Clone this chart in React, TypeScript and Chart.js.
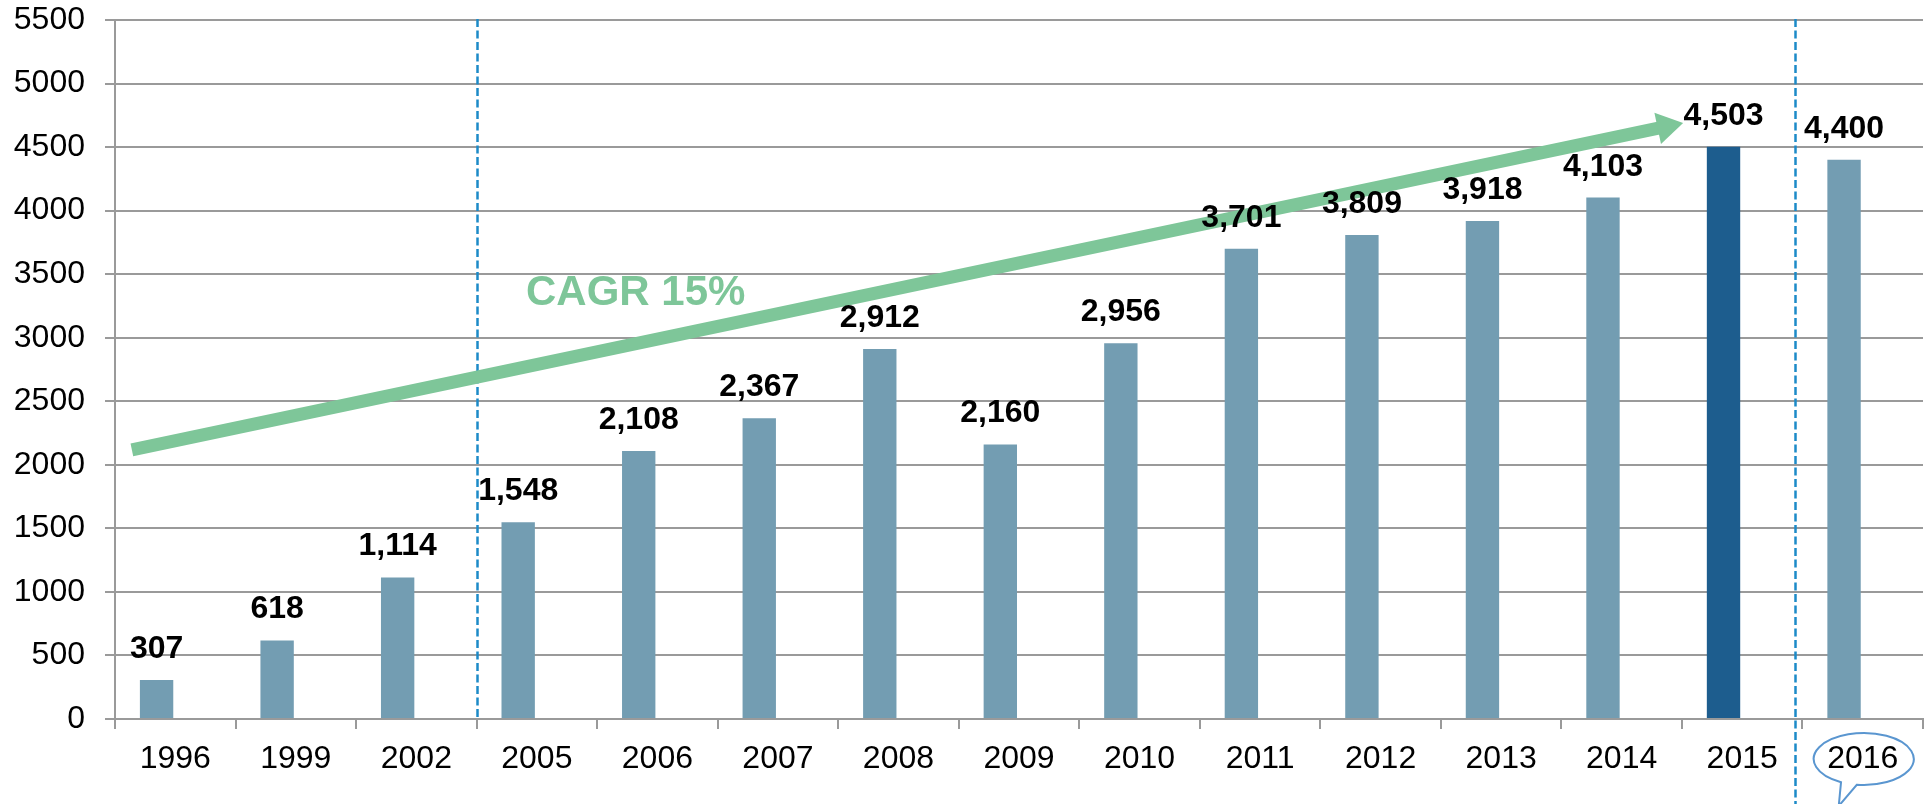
import React, { useEffect, useRef } from "react";
import { Chart, registerables } from "chart.js";

Chart.register(...registerables);

const categories = ["1996", "1999", "2002", "2005", "2006", "2007", "2008", "2009", "2010", "2011", "2012", "2013", "2014", "2015", "2016"];
const values = [307, 618, 1114, 1548, 2108, 2367, 2912, 2160, 2956, 3701, 3809, 3918, 4103, 4503, 4400];
const highlightCategory = "2015";
const calloutCategory = "2016";
const yMin = 0;
const yMax = 5500;
const yStep = 500;
const dividerAt = [2.5, 13.44];
const arrowFrom = { x: -0.36, y: 2117 };
const arrowTo = { x: 12.51, y: 4690 };
const cagrText = "CAGR 15%";
const cagrAt = { x: 3.82, y: 3350 };

const FONT = '"Liberation Sans", Arial, Helvetica, sans-serif';
const BAR = "#739DB2";
const BAR_DARK = "#1D5D8E";
const GRID = "#9A9A9A";
const GREEN = "#7EC699";
const DASH = "#1C8AC8";
const BUBBLE = "#5A96D0";

const overlay = {
  id: "overlay",
  beforeDatasetsDraw(chart: any) {
    const { ctx, chartArea, scales } = chart;
    const x = scales.x;
    ctx.save();
    ctx.strokeStyle = DASH;
    ctx.lineWidth = 2.5;
    ctx.setLineDash([8, 3.5]);
    dividerAt.forEach((d, i) => {
      const px = Math.round(x.getPixelForValue(d)) + 0.5;
      ctx.beginPath();
      ctx.moveTo(px, chartArea.top - 1);
      ctx.lineTo(px, i === dividerAt.length - 1 ? chart.height : chartArea.bottom);
      ctx.stroke();
    });
    ctx.restore();
  },
  afterDatasetsDraw(chart: any) {
    const { ctx, scales } = chart;
    const x = scales.x;
    const y = scales.y;
    ctx.save();
    const x0 = x.getPixelForValue(arrowFrom.x);
    const y0 = y.getPixelForValue(arrowFrom.y);
    const x1 = x.getPixelForValue(arrowTo.x);
    const y1 = y.getPixelForValue(arrowTo.y);
    const len = Math.hypot(x1 - x0, y1 - y0);
    const ux = (x1 - x0) / len;
    const uy = (y1 - y0) / len;
    const headLen = 26;
    const headHalf = 16;
    const bx = x1 - ux * headLen;
    const by = y1 - uy * headLen;
    ctx.strokeStyle = GREEN;
    ctx.fillStyle = GREEN;
    ctx.lineWidth = 13;
    ctx.lineCap = "butt";
    ctx.beginPath();
    ctx.moveTo(x0, y0);
    ctx.lineTo(bx + ux * 2, by + uy * 2);
    ctx.stroke();
    ctx.beginPath();
    ctx.moveTo(x1, y1);
    ctx.lineTo(bx - uy * headHalf, by + ux * headHalf);
    ctx.lineTo(bx + uy * headHalf, by - ux * headHalf);
    ctx.closePath();
    ctx.fill();
    ctx.font = `bold 42px ${FONT}`;
    ctx.textAlign = "center";
    ctx.textBaseline = "middle";
    ctx.fillText(cagrText, x.getPixelForValue(cagrAt.x), y.getPixelForValue(cagrAt.y));
    const meta = chart.getDatasetMeta(0);
    ctx.fillStyle = "#000";
    ctx.font = `bold 32px ${FONT}`;
    ctx.textBaseline = "alphabetic";
    meta.data.forEach((el: any, i: number) => {
      ctx.fillText(values[i].toLocaleString("en-US"), el.x, el.y - 22);
    });
    ctx.restore();
  },
  afterDraw(chart: any) {
    const { ctx, scales, chartArea } = chart;
    const x = scales.x;
    const idx = categories.indexOf(calloutCategory);
    const cx = x.getPixelForValue(idx) + 1;
    const cy = chartArea.bottom + 40;
    const rx = 50;
    const ry = 26;
    const a1 = (117 * Math.PI) / 180;
    const a2 = (98 * Math.PI) / 180;
    ctx.save();
    ctx.strokeStyle = BUBBLE;
    ctx.lineWidth = 2;
    ctx.beginPath();
    ctx.ellipse(cx, cy, rx, ry, 0, a1, a2, false);
    ctx.lineTo(cx - 25, chart.height + 2);
    ctx.closePath();
    ctx.stroke();
    ctx.restore();
  },
};

export default function App() {
  const ref = useRef<HTMLCanvasElement | null>(null);
  useEffect(() => {
    if (!ref.current) return;
    const colors = categories.map((c) => (c === highlightCategory ? BAR_DARK : BAR));
    const chart = new Chart(ref.current, {
      type: "bar",
      data: {
        labels: categories,
        datasets: [
          { data: values, backgroundColor: colors, borderWidth: 0 },
          { data: categories.map(() => null), backgroundColor: BAR, borderWidth: 0 },
        ],
      },
      options: {
        responsive: false,
        animation: false,
        events: [],
        datasets: { bar: { categoryPercentage: 0.62, barPercentage: 0.893 } },
        layout: { padding: { top: 0, right: 5, bottom: 0, left: 0 } },
        plugins: { legend: { display: false }, tooltip: { enabled: false } },
        scales: {
          x: {
            grid: { display: true, drawOnChartArea: false, color: GRID, lineWidth: 2, tickLength: 10, offset: true },
            border: { display: true, color: GRID, width: 2 },
            ticks: { color: "#000", font: { family: FONT, size: 32 }, padding: 11, maxRotation: 0, autoSkip: false },
            afterFit: (s: any) => { s.height = 85; },
          },
          y: {
            min: yMin,
            max: yMax,
            grid: { color: GRID, lineWidth: 2, tickLength: 10 },
            border: { display: true, color: GRID, width: 2 },
            ticks: {
              stepSize: yStep,
              color: "#000",
              font: { family: FONT, size: 32 },
              padding: 20,
              callback: (v: any) => String(v),
            },
            afterFit: (s: any) => {
              s.width = 115;
              s.paddingTop = 20;
              s.paddingBottom = 0;
            },
          },
        },
      },
      plugins: [overlay],
    });
    return () => chart.destroy();
  }, []);
  return (
    <div style={{ position: "fixed", left: 0, top: 0, width: 1928, height: 804, background: "#fff" }}>
      <canvas ref={ref} width={1928} height={804} style={{ display: "block" }} />
    </div>
  );
}
